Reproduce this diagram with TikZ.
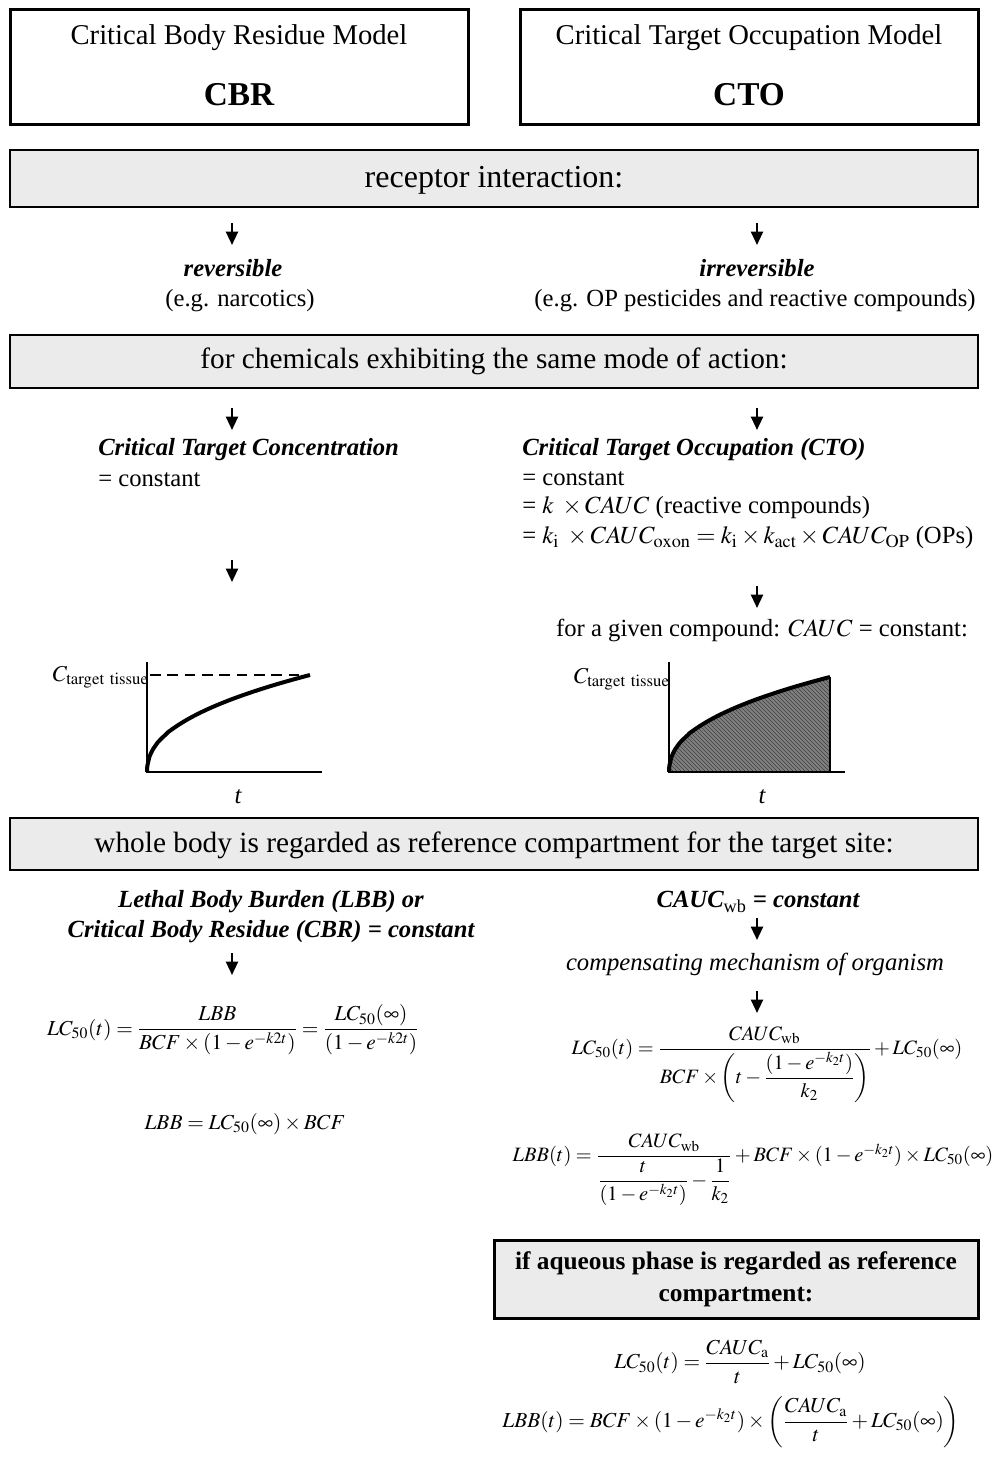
\documentclass[tikz,border=0pt]{standalone}
\usepackage{amsmath}
\usepackage{mathptmx}
\usepackage{fontspec}
\setmainfont{Liberation Serif}
\usetikzlibrary{arrows.meta,patterns}

\tikzset{
  hbox/.style={draw, line width=2.25pt},
  band/.style={draw, line width=1.5pt, fill=black!8},
  arr/.style={line width=1.6pt, -{Triangle[width=9pt,length=10pt]}},
  axis/.style={line width=1.6pt},
  curve/.style={line width=3pt},
  eq/.style={font=\fontsize{16}{19}\selectfont},
  eqs/.style={font=\fontsize{15.3}{18}\selectfont},
  bitxt/.style={font=\fontsize{18.5}{22}\selectfont\bfseries\itshape},
  bandtxt/.style={font=\fontsize{22}{26}\selectfont},
  headtxt/.style={font=\fontsize{21.5}{26}\selectfont},
  abbr/.style={font=\fontsize{25}{30}\selectfont\bfseries}
}

\begin{document}
\begin{tikzpicture}[x=0.75pt, y=-0.75pt, font=\fontsize{18.5}{22}\selectfont, every node/.style={inner sep=0pt}]
	\useasboundingbox (0,0) rectangle (997,1458);
	\draw[hbox] (10,10) rectangle (468,125);
	\node[headtxt] (cbrname) at (239,38) {Critical Body Residue Model};
	\node[abbr] (cbr) at (239,95) {CBR};
	\draw[hbox] (520,10) rectangle (978,125);
	\node[headtxt] (ctoname) at (749,38) {Critical Target Occupation Model};
	\node[abbr] (cto) at (749,95) {CTO};

	\draw[band] (10,150) rectangle (978,207);
	\node[font=\fontsize{24}{28}\selectfont] (receptor) at (494,180) {receptor interaction:};
	\coordinate (a1) at (232,223); \coordinate (a1e) at (232,245);
	\coordinate (a2) at (757,223); \coordinate (a2e) at (757,245);
	\draw[arr] (a1) -- (a1e);
	\draw[arr] (a2) -- (a2e);
	\node[bitxt] (rev) at (233,268) {reversible};
	\node (narc) at (240,301) {(e.g. narcotics)};
	\node[bitxt] (irrev) at (757,268) {irreversible};
	\node (opreac) at (755,301) {(e.g. OP pesticides and reactive compounds)};

	\draw[band] (10,335) rectangle (978,388);
	\node[bandtxt] (mode) at (494,361) {for chemicals exhibiting the same mode of action:};
	\coordinate (a3) at (232,408); \coordinate (a3e) at (232,430);
	\coordinate (a4) at (757,408); \coordinate (a4e) at (757,430);
	\draw[arr] (a3) -- (a3e);
	\draw[arr] (a4) -- (a4e);
	\node[bitxt, anchor=west] (ctc) at (98,450) {Critical Target Concentration};
	\node[anchor=west] (ctcconst) at (98,480) {= constant};
	\node[bitxt, anchor=west] (ctocc) at (522,450) {Critical Target Occupation (CTO)};
	\node[anchor=west] (ctoconst) at (522,479) {= constant};
	\node[anchor=west] (ctoreac) at (522,508) {= $k\;\times CAUC$ (reactive compounds)};
	\node[anchor=west] (ctoop) at (522,538) {= $k_{\mathrm{i}}\;\times CAUC_{\mathrm{oxon}} = k_{\mathrm{i}}\times k_{\mathrm{act}}\times CAUC_{\mathrm{OP}}$ (OPs)};
	\coordinate (a5) at (232,560); \coordinate (a5e) at (232,582);
	\coordinate (a6) at (757,586); \coordinate (a6e) at (757,608);
	\draw[arr] (a5) -- (a5e);
	\draw[arr] (a6) -- (a6e);
	\node (given) at (762,630) {for a given compound: $CAUC$ = constant:};

	\draw[axis] (147,662) -- (147,772) -- (322,772);
	\draw[line width=1.5pt, dash pattern=on 8pt off 5pt] (150,675) -- (310,675);
	\draw[curve] (147,772) -- plot[domain=0.3:163, samples=80] ({147+\x},{772-97*(\x/163)^0.44});
	\node[anchor=base east, font=\fontsize{17}{20}\selectfont] (cleft) at (149,681) {$C_{\mathrm{target\ tissue}}$};
	\node[font=\fontsize{18.5}{22}\selectfont\itshape] (tleft) at (238,797) {t};

	\fill[black!50] (669,772) -- plot[domain=0.3:161, samples=80] ({669+\x},{772-95*(\x/161)^0.44}) -- (830,772) -- cycle;
	\fill[pattern=north west lines, pattern color=black!75] (669,772) -- plot[domain=0.3:161, samples=80] ({669+\x},{772-95*(\x/161)^0.44}) -- (830,772) -- cycle;
	\draw[line width=0.8pt] (830,677) -- (830,772);
	\draw[axis] (669,662) -- (669,772) -- (845,772);
	\draw[curve] (669,772) -- plot[domain=0.3:161, samples=80] ({669+\x},{772-95*(\x/161)^0.44});
	\node[anchor=base east, font=\fontsize{17}{20}\selectfont] (cright) at (670,683) {$C_{\mathrm{target\ tissue}}$};
	\node[font=\fontsize{18.5}{22}\selectfont\itshape] (tright) at (762,797) {t};

	\draw[band] (10,818) rectangle (978,870);
	\node[bandtxt] (whole) at (494,845) {whole body is regarded as reference compartment for the target site:};
	\node[bitxt, align=center, font=\fontsize{18.5}{22.5}\selectfont\bfseries\itshape] (lbb) at (271,917) {Lethal Body Burden (LBB) or\\Critical Body Residue (CBR) = constant};
	\coordinate (a7) at (232,953); \coordinate (a7e) at (232,975);
	\draw[arr] (a7) -- (a7e);
	\node[eq] (lcleft) at (233,1030) {$LC_{50}(t)=\dfrac{LBB}{BCF\times\left(1-e^{-k2t}\right)}=\dfrac{LC_{50}(\infty)}{\left(1-e^{-k2t}\right)}$};
	\node[eq] (lbbleft) at (245,1124) {$LBB=LC_{50}(\infty)\times BCF$};

	\node[bitxt] (cauc) at (758,902) {CAUC{\normalfont\textsubscript{wb}} = constant};
	\coordinate (a8) at (757,918); \coordinate (a8e) at (757,940);
	\draw[arr] (a8) -- (a8e);
	\node[font=\fontsize{18.5}{22}\selectfont\itshape] (comp) at (755,964) {compensating mechanism of organism};
	\coordinate (a9) at (757,991); \coordinate (a9e) at (757,1013);
	\draw[arr] (a9) -- (a9e);
	\node[eqs] (lcright) at (767,1065) {$LC_{50}(t)=\dfrac{CAUC_{\mathrm{wb}}}{BCF\times\left(t-\dfrac{(1-e^{-k_2t})}{k_2}\right)}+LC_{50}(\infty)$};
	\node[eqs] (lbbright) at (753,1170) {$LBB(t)=\dfrac{CAUC_{\mathrm{wb}}}{\dfrac{t}{(1-e^{-k_2t})}-\dfrac{1}{k_2}}+BCF\times(1-e^{-k_2t})\times LC_{50}(\infty)$};

	\draw[hbox, fill=black!8] (494,1240) rectangle (978,1318);
	\node[align=center, font=\fontsize{19}{24}\selectfont\bfseries] (aq) at (736,1279) {if aqueous phase is regarded as reference\\compartment:};
	\node[eq] (lcaq) at (740,1362) {$LC_{50}(t)=\dfrac{CAUC_{\mathrm{a}}}{t}+LC_{50}(\infty)$};
	\node[eq] (lbbaq) at (731,1422) {$LBB(t)=BCF\times(1-e^{-k_2t})\times\left(\dfrac{CAUC_{\mathrm{a}}}{t}+LC_{50}(\infty)\right)$};
\end{tikzpicture}
\end{document}
